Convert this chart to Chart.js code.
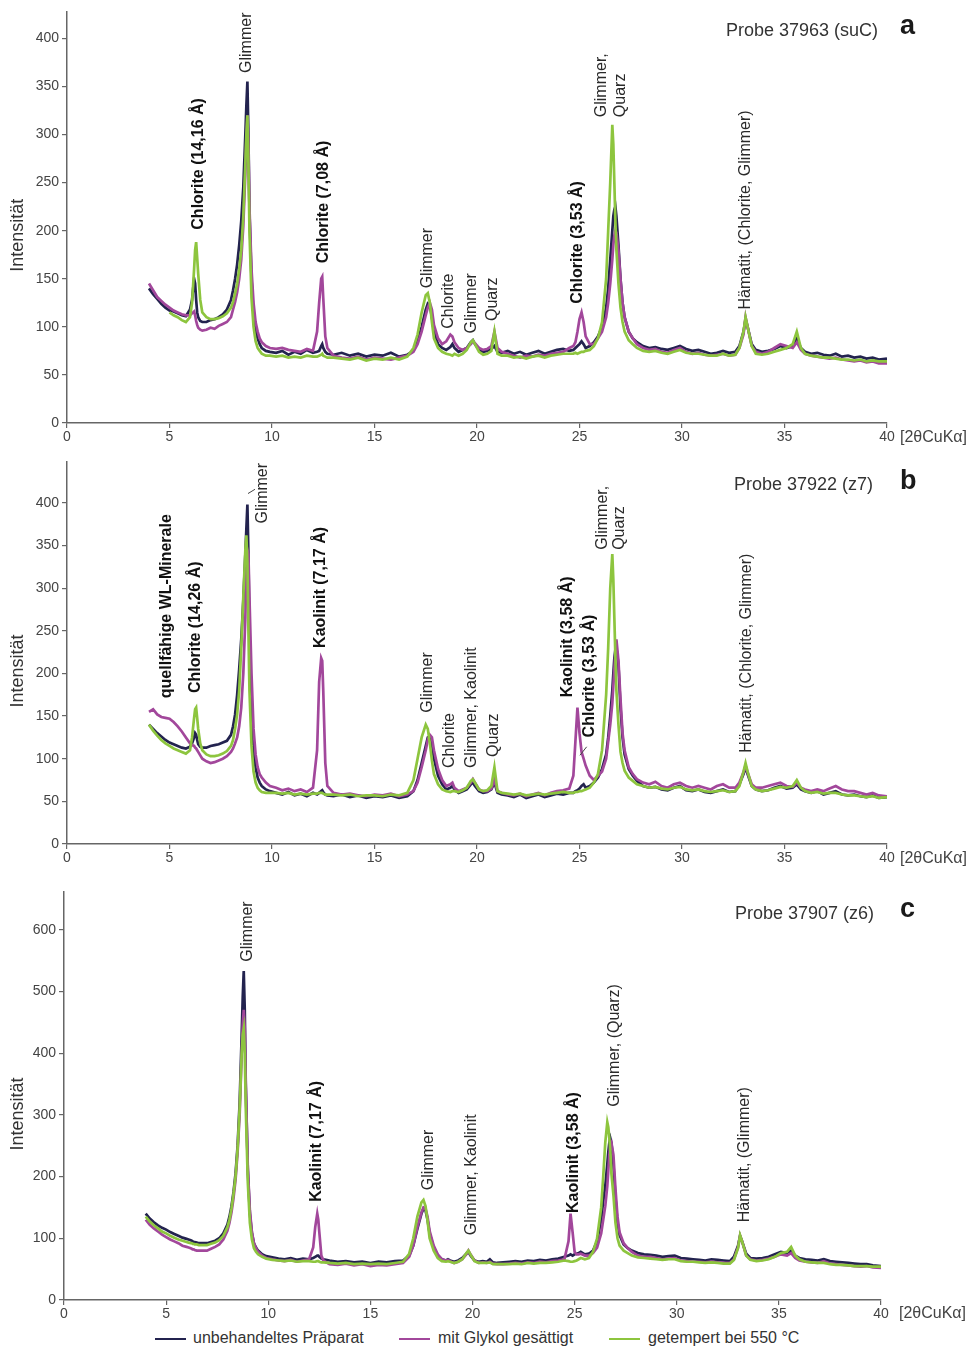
<!DOCTYPE html>
<html>
<head>
<meta charset="utf-8">
<script src="https://cdn.jsdelivr.net/npm/chart.js@4.4.1/dist/chart.umd.min.js"></script>
<style>
  html,body{margin:0;padding:0;background:#fff;}
  body{width:977px;height:1349px;position:relative;overflow:hidden;font-family:"Liberation Sans",Arial,sans-serif;color:#2a2a2a;}
  canvas{position:absolute;left:0;}
  .probe{position:absolute;font-size:18px;line-height:18px;white-space:nowrap;color:#333;}
  .letter{position:absolute;font-family:"Liberation Sans Narrow","Liberation Sans",Arial,sans-serif;font-weight:bold;font-size:27px;line-height:27px;color:#1a1a1a;}
  .unit{position:absolute;font-size:16px;line-height:16px;color:#444;white-space:nowrap;}
  .legend{position:absolute;top:1328px;left:0;width:977px;height:22px;font-size:16px;line-height:20px;color:#333;}
  .legend span{position:absolute;white-space:nowrap;}
  .legend i{position:absolute;top:10px;height:2px;width:31px;}
</style>
</head>
<body>
<canvas id="ca" width="977" height="450" style="top:0px"></canvas>
<canvas id="cb" width="977" height="420" style="top:450px"></canvas>
<canvas id="cc" width="977" height="450" style="top:875px"></canvas>

<div class="probe" style="right:99px;top:21px">Probe 37963 (suC)</div>
<div class="letter" style="left:900px;top:12px">a</div>
<div class="probe" style="right:104px;top:475px">Probe 37922 (z7)</div>
<div class="letter" style="left:900px;top:467px">b</div>
<div class="probe" style="right:103px;top:904px">Probe 37907 (z6)</div>
<div class="letter" style="left:900px;top:895px">c</div>

<div class="unit" style="left:900px;top:429px">[2θCuKα]</div>
<div class="unit" style="left:900px;top:850px">[2θCuKα]</div>
<div class="unit" style="left:899px;top:1305px">[2θCuKα]</div>

<div class="legend">
  <i style="left:155px;background:#23234f"></i><span style="left:193px">unbehandeltes Präparat</span>
  <i style="left:399px;background:#a2479b"></i><span style="left:438px">mit Glykol gesättigt</span>
  <i style="left:609px;background:#8dc53e"></i><span style="left:648px">getempert bei 550 °C</span>
</div>

<script>
// ---- shared 2θ grid (°2θ CuKα) ----
const twoTheta = [
  4.0,4.2,4.4,4.6,4.8,5.0,5.2,5.4,5.6,5.8,6.0,
  6.1,6.2,6.25,6.3,6.35,6.4,6.5,6.6,
  6.8,7.0,7.2,7.4,7.6,7.8,8.0,
  8.1,8.2,8.3,8.4,8.5,8.6,8.7,8.75,8.8,8.85,8.9,9.0,9.1,9.2,9.3,9.4,9.5,9.7,9.9,
  10.2,10.5,10.8,11.1,11.4,11.7,12.0,
  12.2,12.3,12.4,12.45,12.5,12.6,12.7,
  13.0,13.4,13.8,14.2,14.6,15.0,15.4,15.8,16.2,16.6,
  16.9,17.1,17.3,17.5,17.6,17.7,17.8,17.9,18.1,18.3,
  18.5,18.7,18.8,18.9,19.1,19.3,19.5,19.7,19.8,19.9,20.1,20.3,20.5,20.7,20.85,21.0,21.2,
  21.5,21.8,22.1,22.4,22.7,23.0,23.3,23.6,23.9,24.2,24.5,
  24.7,24.8,24.9,25.0,25.1,25.2,25.3,25.5,25.7,25.9,
  26.1,26.3,26.4,26.5,26.6,26.65,26.7,26.75,26.8,26.9,27.0,27.1,27.2,27.4,27.6,27.8,
  28.1,28.4,28.7,29.0,29.3,29.6,29.9,30.2,30.5,30.8,31.1,31.4,31.7,32.0,32.3,32.6,
  32.8,33.0,33.1,33.2,33.4,33.6,
  33.9,34.2,34.5,34.8,35.1,35.4,35.6,35.8,36.0,36.3,36.6,36.9,37.2,37.5,37.8,38.1,38.4,38.7,39.0,39.3,39.6,40.0
];

const seriesNames = ["unbehandeltes Präparat", "mit Glykol gesättigt", "getempert bei 550 °C"];
const seriesColors = ["#23234f", "#a2479b", "#8dc53e"];

// tick values
const xTicks = [0,5,10,15,20,25,30,35,40];
const yTicksA = [0,50,100,150,200,250,300,350,400];
const yTicksB = [0,50,100,150,200,250,300,350,400];
const yTicksC = [0,100,200,300,400,500,600];

// ---- Probe 37963 (suC) ----
const aRaw = [
  140,134,129,124,120,117,116,114,112,111,118,
  128,150,145,128,115,110,106,105,
  105,107,108,110,113,118,128,
  138,150,165,185,210,245,300,330,355,300,220,150,112,96,88,82,78,75,74,
  73,75,71,74,72,76,73,
  74,75,80,82,78,74,72,
  71,73,70,72,69,71,70,73,69,71,
  75,85,100,118,124,122,110,95,82,78,
  76,79,82,78,74,76,78,84,86,82,76,74,75,77,80,74,73,
  75,72,74,71,73,75,72,74,76,77,75,
  76,78,80,82,85,82,78,80,84,90,
  100,120,140,170,200,215,222,225,215,185,150,125,110,95,88,84,
  80,78,79,77,76,78,80,77,75,76,74,72,73,75,73,74,
  80,95,108,100,82,76,
  74,75,77,80,78,80,88,78,74,72,73,71,70,72,69,70,68,69,67,68,66,67
];
const aGly = [
  145,138,131,127,123,120,117,115,113,112,112,
  114,116,112,106,102,99,97,96,
  97,99,98,101,103,105,110,
  118,126,136,150,170,205,260,295,320,290,225,160,125,105,95,88,84,80,78,
  77,78,76,75,74,77,75,
  95,125,150,152,130,90,78,
  70,68,67,69,66,68,67,66,68,70,
  74,82,95,112,120,125,118,102,88,82,
  85,92,90,84,78,76,78,82,85,83,78,76,77,80,95,78,74,
  72,70,68,70,69,71,70,72,73,74,78,
  80,84,95,108,115,105,90,82,82,88,
  95,110,125,145,170,185,195,200,198,180,150,125,110,95,88,82,
  78,76,77,74,73,76,78,74,72,73,71,70,71,72,70,71,
  78,92,110,100,80,74,
  72,74,78,82,80,78,84,76,72,70,69,68,67,68,66,65,64,65,63,64,62,62
];
const aHeat = [
  null,null,null,null,null,115,112,110,107,105,110,
  125,160,180,188,172,155,128,115,
  110,108,108,109,111,114,120,
  126,135,145,160,180,215,270,300,320,270,200,130,100,85,78,75,72,70,70,
  69,70,68,69,68,70,69,
  69,70,71,72,70,69,68,
  68,67,66,68,65,67,66,68,66,69,
  78,92,115,133,135,125,105,88,78,74,
  72,71,70,72,70,72,76,84,86,82,74,71,72,75,95,72,70,
  70,68,69,67,69,70,68,70,71,72,72,
  72,73,72,73,74,74,75,76,80,88,
  105,150,200,250,310,290,250,210,180,145,120,105,95,86,82,78,
  75,74,75,73,72,74,76,73,72,72,71,70,70,72,70,71,
  78,95,110,100,80,72,
  71,72,74,76,78,82,95,78,72,70,69,68,68,67,66,66,65,66,64,65,64,64
];

// ---- Probe 37922 (z7) ----
const bRaw = [
  140,135,130,126,122,119,117,115,113,112,114,
  118,125,130,128,122,117,114,113,
  113,115,116,117,119,121,128,
  138,152,175,205,240,285,340,370,398,340,240,150,110,90,78,72,68,64,62,
  60,58,61,57,59,56,60,
  58,60,62,63,61,58,57,
  56,58,55,57,54,56,55,57,54,56,
  62,75,95,115,125,126,118,100,80,70,
  64,66,68,64,60,62,64,70,72,68,62,60,61,64,72,60,58,
  57,55,58,54,56,58,55,57,59,58,60,
  60,62,63,65,68,70,66,68,72,78,
  88,105,125,150,180,200,218,228,230,210,160,125,105,88,80,74,
  68,66,67,64,63,66,68,63,62,64,61,60,62,64,61,62,
  70,82,90,82,68,64,
  62,63,66,68,65,66,70,64,62,60,62,58,60,62,58,57,58,56,55,57,54,55
];
const bGly = [
  155,158,152,149,148,147,143,138,132,125,118,
  116,115,113,112,110,108,104,100,
  97,95,96,98,100,103,108,
  112,118,125,138,160,200,265,320,345,340,290,200,135,105,90,82,78,72,68,
  66,63,65,62,64,61,66,
  110,190,218,215,180,95,68,
  60,58,59,57,56,58,57,59,56,58,
  62,72,90,110,122,128,125,110,88,75,
  68,70,72,66,62,64,66,72,76,72,64,62,62,65,75,62,60,
  58,57,59,56,58,60,57,60,62,63,65,
  80,120,160,130,108,100,92,80,75,80,
  85,100,120,140,165,185,205,225,240,215,170,130,110,90,82,76,
  72,70,73,68,66,70,72,68,66,68,66,64,68,70,66,66,
  72,84,92,84,70,66,
  66,68,70,72,68,67,72,66,64,62,64,62,65,68,64,62,62,60,58,60,57,56
];
const bHeat = [
  140,133,127,122,118,115,112,110,108,106,110,
  125,148,158,160,148,135,118,110,
  105,103,103,104,106,109,115,
  122,135,152,180,230,290,345,362,330,250,180,115,85,72,66,63,61,60,60,
  60,59,60,58,59,58,59,
  59,60,60,60,59,58,58,
  58,57,58,56,57,57,56,58,57,60,
  75,100,125,140,135,118,98,82,70,64,
  62,61,62,62,61,63,66,74,76,72,64,62,63,68,90,62,60,
  59,58,59,57,58,59,58,59,60,61,60,
  60,61,61,62,62,63,64,66,72,82,
  110,175,230,300,340,310,265,220,180,140,108,95,86,78,74,70,
  68,66,67,65,64,66,67,64,63,64,62,61,62,63,61,62,
  68,85,95,85,68,64,
  62,63,65,67,66,68,75,66,62,60,61,59,60,60,58,57,57,56,55,56,54,55
];

// ---- Probe 37907 (z6) ----
const cRaw = [
  140,132,126,121,117,114,110,107,104,101,99,
  98,97,96,95,94,94,93,92,
  92,92,94,96,100,108,122,
  135,152,175,205,250,320,430,490,533,470,350,210,140,108,92,85,80,74,71,
  69,67,66,68,65,67,66,
  68,70,72,72,70,67,66,
  64,62,63,61,62,60,62,61,63,64,
  72,88,115,140,148,145,130,108,85,72,
  66,64,66,64,62,64,68,75,78,72,64,62,63,62,66,61,60,
  61,62,63,62,64,63,65,64,66,67,70,
  72,74,72,74,75,76,78,74,75,80,
  95,130,160,185,220,240,255,262,255,220,165,125,105,90,84,80,
  76,74,73,72,70,71,72,68,67,66,65,64,66,65,64,63,
  70,88,104,95,75,68,
  67,68,70,74,78,76,80,72,68,66,65,64,66,63,62,61,60,59,58,58,56,55
];
const cGly = [
  130,122,116,111,106,102,98,95,92,88,86,
  85,84,83,82,82,81,80,80,
  80,80,83,86,90,98,112,
  125,142,165,195,240,300,400,445,470,440,345,215,145,110,92,84,78,72,68,
  66,64,63,65,62,64,66,
  85,118,140,130,110,72,64,
  58,57,59,56,58,55,57,56,58,60,
  70,88,118,142,150,148,135,112,88,74,
  66,64,65,63,60,62,66,74,80,74,64,60,61,60,62,59,58,
  58,59,60,59,61,60,62,61,63,64,66,
  95,140,110,78,74,74,75,72,72,76,
  85,108,130,152,185,210,235,252,255,235,180,135,110,92,84,78,
  72,70,70,68,66,67,68,64,63,62,62,61,62,61,60,60,
  66,85,104,95,72,66,
  64,65,67,70,74,72,76,68,64,62,61,60,63,59,58,57,56,55,54,55,53,52
];
const cHeat = [
  135,127,121,116,111,108,104,101,98,96,94,
  93,92,92,91,91,90,90,89,
  89,89,91,93,97,104,118,
  130,148,172,200,245,310,400,430,440,400,310,190,125,98,84,78,74,70,67,
  65,64,63,64,62,63,63,
  62,62,63,63,62,61,61,
  60,59,60,58,59,58,59,58,60,62,
  75,100,135,158,162,152,128,100,80,68,
  63,62,63,62,60,62,66,76,80,74,63,60,60,60,61,58,58,
  58,58,59,58,60,59,60,60,61,62,64,
  63,62,62,63,64,66,68,66,68,78,
  100,150,200,255,288,280,262,240,205,170,125,100,88,80,76,72,
  69,68,67,66,65,66,66,63,62,62,61,60,61,60,59,59,
  65,84,105,95,72,65,
  63,64,66,70,76,78,86,72,66,62,61,60,60,58,57,57,56,55,55,55,54,54
];

// ---- peak labels: [2θ, intensity at text start, text, bold] ----
const peaksA = [
  [6.4, 201, "Chlorite (14,16 Å)", true],
  [8.78, 364, "Glimmer", false],
  [12.54, 166, "Chlorite (7,08 Å)", true],
  [17.6, 140, "Glimmer", false],
  [18.63, 98, "Chlorite", false],
  [19.76, 93, "Glimmer", false],
  [20.78, 106, "Quarz", false],
  [24.93, 124, "Chlorite (3,53 Å)", true],
  [26.1, 318, "Glimmer,", false],
  [27.0, 318, "Quarz", false],
  [33.1, 118, "Hämatit, (Chlorite, Glimmer)", false]
];
const peaksB = [
  [4.88, 171, "quellfähige WL-Minerale", true],
  [6.29, 177, "Chlorite (14,26 Å)", true],
  [9.56, 376, "Glimmer", false],
  [12.39, 230, "Kaolinit (7,17 Å)", true],
  [17.6, 154, "Glimmer", false],
  [18.68, 89, "Chlorite", false],
  [19.76, 89, "Glimmer, Kaolinit", false],
  [20.83, 102, "Quarz", false],
  [24.44, 172, "Kaolinit (3,58 Å)", true],
  [25.5, 125, "Chlorite (3,53 Å)", true],
  [26.15, 345, "Glimmer,", false],
  [26.98, 345, "Quarz", false],
  [33.17, 107, "Hämatit, (Chlorite, Glimmer)", false]
];
const leadersB = [[8.83, 411, 9.17, 416], [25.02, 104, 25.35, 114]];
const peaksC = [
  [9.0, 548, "Glimmer", false],
  [12.37, 159, "Kaolinit (7,17 Å)", true],
  [17.85, 178, "Glimmer", false],
  [19.95, 105, "Glimmer, Kaolinit", false],
  [24.94, 141, "Kaolinit (3,58 Å)", true],
  [26.94, 313, "Glimmer, (Quarz)", false],
  [33.3, 126, "Hämatit, (Glimmer)", false]
];

const FONT = '"Liberation Sans", Arial, sans-serif';

const peakLabelPlugin = {
  id: 'peaklabels',
  afterDatasetsDraw(chart, args, opts) {
    const ctx = chart.ctx, xs = chart.scales.x, ys = chart.scales.y;
    ctx.save();
    (opts.items || []).forEach(p => {
      const px = xs.getPixelForValue(p[0]), py = ys.getPixelForValue(p[1]);
      ctx.save();
      ctx.translate(px, py);
      ctx.rotate(-Math.PI / 2);
      ctx.font = (p[3] ? 'bold 16px ' : '16px ') + FONT;
      ctx.fillStyle = p[3] ? '#111' : '#2a2a2a';
      ctx.textAlign = 'left';
      ctx.textBaseline = 'middle';
      ctx.fillText(p[2], 0, 0);
      ctx.restore();
    });
    ctx.strokeStyle = '#444';
    ctx.lineWidth = 1;
    (opts.leaders || []).forEach(l => {
      ctx.beginPath();
      ctx.moveTo(xs.getPixelForValue(l[0]), ys.getPixelForValue(l[1]));
      ctx.lineTo(xs.getPixelForValue(l[2]), ys.getPixelForValue(l[3]));
      ctx.stroke();
    });
    // y axis title
    const ca = chart.chartArea;
    ctx.save();
    ctx.translate(18, (ca.top + ca.bottom) / 2 + 18);
    ctx.rotate(-Math.PI / 2);
    ctx.font = '18px ' + FONT;
    ctx.fillStyle = '#333';
    ctx.textAlign = 'center';
    ctx.textBaseline = 'middle';
    ctx.fillText('Intensität', 0, 0);
    ctx.restore();
    ctx.restore();
  }
};

function pts(ys) { return twoTheta.map((x, i) => ({x: x, y: ys[i]})); }

function build(id, series, cfg) {
  const datasets = series.map((ys, i) => ({
    label: seriesNames[i],
    data: pts(ys),
    borderColor: seriesColors[i],
    backgroundColor: seriesColors[i],
    borderWidth: 2.7,
    pointRadius: 0,
    tension: 0,
    fill: false,
    order: 3 - i
  }));
  return new Chart(document.getElementById(id), {
    type: 'line',
    data: {datasets},
    options: {
      responsive: false,
      animation: false,
      events: [],
      layout: {padding: {left: 0, right: cfg.padR, top: cfg.padT, bottom: 0}},
      plugins: {
        legend: {display: false},
        tooltip: {enabled: false},
        peaklabels: {items: cfg.peaks, leaders: cfg.leaders}
      },
      scales: {
        x: {
          type: 'linear', min: 0, max: 40,
          afterBuildTicks(s) { s.ticks = xTicks.map(v => ({value: v})); },
          ticks: {font: {size: 14, family: FONT}, color: '#444', padding: 1, maxRotation: 0, autoSkip: false},
          grid: {drawOnChartArea: false, drawTicks: true, tickLength: 5, color: '#666', lineWidth: 1.2},
          border: {display: true, color: '#666', width: 1.5},
          afterFit(s) { s.height = cfg.xH; }
        },
        y: {
          type: 'linear', min: 0, max: cfg.ymax,
          afterBuildTicks(s) { s.ticks = cfg.yTicks.map(v => ({value: v})); },
          ticks: {font: {size: 14, family: FONT}, color: '#444', padding: 3, autoSkip: false},
          grid: {drawOnChartArea: false, drawTicks: true, tickLength: 5, color: '#666', lineWidth: 1.2},
          border: {display: true, color: '#666', width: 1.5},
          afterFit(s) { s.width = cfg.yW; }
        }
      }
    },
    plugins: [peakLabelPlugin]
  });
}

build('ca', [aRaw, aGly, aHeat], {padT: 8, padR: 90, xH: 27, yW: 67, ymax: 428, yTicks: yTicksA, peaks: peaksA, leaders: []});
build('cb', [bRaw, bGly, bHeat], {padT: 12, padR: 90, xH: 26, yW: 67, ymax: 448, yTicks: yTicksB, peaks: peaksB, leaders: leadersB});
build('cc', [cRaw, cGly, cHeat], {padT: 17, padR: 96, xH: 25, yW: 64, ymax: 661, yTicks: yTicksC, peaks: peaksC, leaders: []});
</script>
</body>
</html>
